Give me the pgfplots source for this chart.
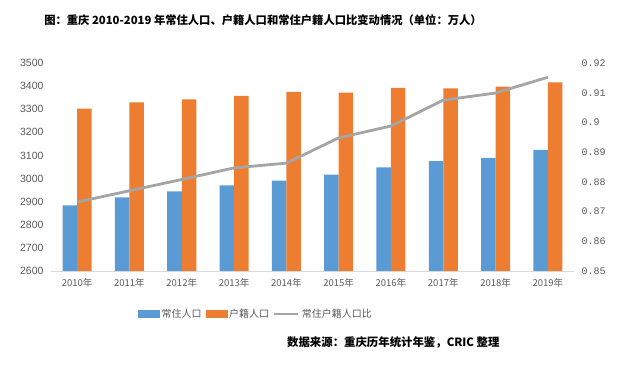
\documentclass[border=0pt]{standalone}
\usepackage{pgfplots}
\pgfplotsset{compat=1.18}
\usepackage{fontspec}
\setmainfont{Noto Sans CJK SC}
\newfontfamily\lsans{Liberation Sans}
\newfontfamily\lmono{Liberation Mono}
\definecolor{cblue}{HTML}{5B9BD5}
\definecolor{corange}{HTML}{ED7D31}
\definecolor{cgray}{HTML}{A5A5A5}
\definecolor{ctext}{HTML}{595959}
\definecolor{caxis}{HTML}{D9D9D9}
\begin{document}
\begin{tikzpicture}[x=1pt,y=1pt]
\useasboundingbox (0pt,0pt) rectangle (637pt,364pt);
\begin{axis}[
  at={(51pt,93pt)}, anchor=south west,
  width=523pt, height=208pt, scale only axis,
  ybar=0pt, bar width=14.5pt,
  xmin=-0.5, xmax=9.5, ymin=2600, ymax=3500,
  xtick={0,...,9},
  xticklabels={2010年,2011年,2012年,2013年,2014年,2015年,2016年,2017年,2018年,2019年},
  ytick={2600,2700,2800,2900,3000,3100,3200,3300,3400,3500},
  axis x line*=bottom, axis y line*=left,
  x axis line style={draw=caxis, line width=0.8pt, -},
  y axis line style={draw=none},
  major tick length=0pt,
  /pgf/number format/assume math mode=true,
  /pgf/number format/1000 sep={},
  yticklabel style={font=\lsans\fontsize{10.5}{12}\selectfont, text=ctext, xshift=-4pt},
  xticklabel style={font=\fontsize{9.5}{11}\selectfont, text=ctext, yshift=-4pt},
  clip=false,
]
\addplot[fill=cblue, draw=none] coordinates {(0,2884) (1,2919) (2,2945) (3,2970) (4,2991) (5,3017) (6,3048) (7,3075) (8,3090) (9,3124)};
\addplot[fill=corange, draw=none] coordinates {(0,3303) (1,3330) (2,3343) (3,3358) (4,3375) (5,3372) (6,3392) (7,3390) (8,3398) (9,3416)};
\end{axis}
\begin{axis}[
  at={(51pt,93pt)}, anchor=south west,
  width=523pt, height=208pt, scale only axis,
  xmin=-0.5, xmax=9.5, ymin=0.85, ymax=0.92,
  axis x line=none, axis y line*=right,
  y axis line style={draw=none},
  ytick={0.85,0.86,0.87,0.88,0.89,0.9,0.91,0.92},
  major tick length=0pt,
  /pgf/number format/assume math mode=true,
  yticklabel style={font=\lmono\fontsize{10}{12}\selectfont, text=ctext, xshift=4pt,
    /pgf/number format/fixed, /pgf/number format/precision=2},
  legend columns=3,
  legend style={at={(0.392,-0.207)}, anchor=center, draw=none, fill=none,
    font=\fontsize{10}{12}\selectfont, text=ctext,
    /tikz/every even column/.append style={column sep=2pt}},
]
\addlegendimage{legend image code/.code={\fill[cblue] (0pt,-3.5pt) rectangle (21pt,3.5pt);}}
\addlegendentry{常住人口}
\addlegendimage{legend image code/.code={\fill[corange] (0pt,-3.5pt) rectangle (21pt,3.5pt);}}
\addlegendentry{户籍人口}
\addplot[cgray, line width=2.8pt, line join=round, mark=none,
  legend image code/.code={\draw[cgray, line width=2.8pt] (0pt,0pt)--(24pt,0pt);}]
  coordinates {(0,0.8732) (1,0.8770) (2,0.8808) (3,0.8847) (4,0.8863) (5,0.8948) (6,0.8988) (7,0.9075) (8,0.9099) (9,0.9152)};
\addlegendentry{常住户籍人口比}
\end{axis}
\node[font=\bfseries\fontsize{11.3}{13}\selectfont] at (263pt,344pt) {图：重庆 2010-2019 年常住人口、户籍人口和常住户籍人口比变动情况（单位：万人）};
\node[font=\bfseries\fontsize{11.4}{13}\selectfont, anchor=east] at (503pt,22pt) {数据来源：重庆历年统计年鉴，CRIC 整理};
\end{tikzpicture}
\end{document}
